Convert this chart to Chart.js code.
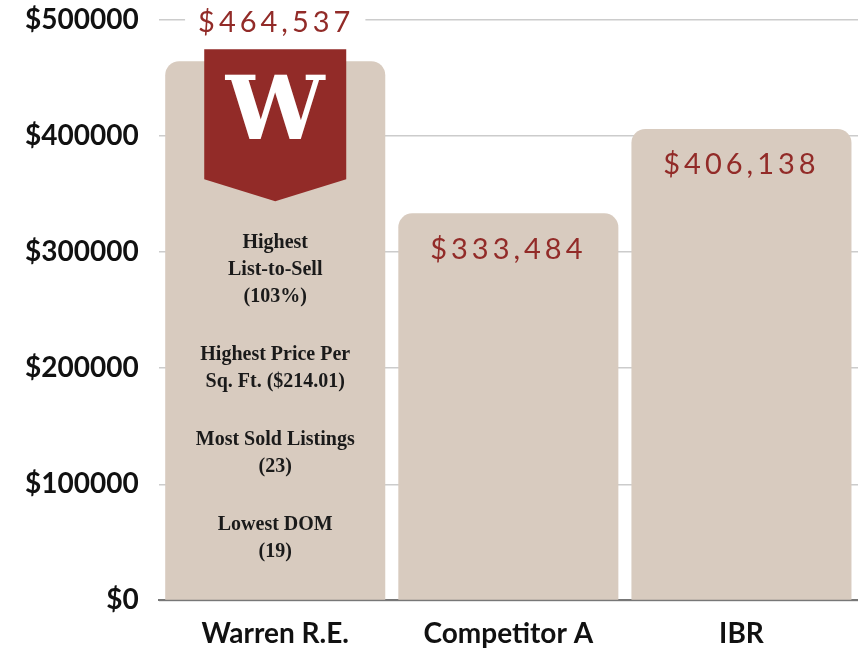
<!DOCTYPE html>
<html>
<head>
<meta charset="utf-8">
<script src="https://cdn.jsdelivr.net/npm/chart.js@4.4.1/dist/chart.umd.min.js"></script>
<style>
  html, body { margin: 0; padding: 0; background: #fff; }
  #wrap { width: 858px; height: 650px; }
</style>
</head>
<body>
<div id="wrap"><canvas id="grafico"></canvas></div>
<script>
var categorias = ["Warren R.E.", "Competitor A", "IBR"];
var precoMedio = [464537, 333484, 406138];
var destaque = "Warren R.E.";
var notasDestaque = [
  ["Highest", "List-to-Sell", "(103%)"],
  ["Highest Price Per", "Sq. Ft. ($214.01)"],
  ["Most Sold Listings", "(23)"],
  ["Lowest DOM", "(19)"]
];

var corBarra = "#d8cbbf";
var corVinho = "#922b28";

function formatarValor(v) {
  return "$" + v.toLocaleString("en-US");
}

var pluginRotulos = {
  id: "rotulos",
  afterDatasetsDraw: function (chart) {
    var ctx = chart.ctx;
    var meta = chart.getDatasetMeta(0);
    var area = chart.chartArea;
    ctx.save();
    meta.data.forEach(function (barra, i) {
      var valor = precoMedio[i];
      var texto = formatarValor(valor);
      ctx.font = "400 29px Lato";
      ctx.letterSpacing = "4px";
      ctx.textAlign = "center";
      ctx.textBaseline = "middle";

      if (categorias[i] === destaque) {
        // bandeira vermelha com o W
        var topo = barra.y - 12;
        var meia = 71;
        ctx.fillStyle = corVinho;
        ctx.beginPath();
        ctx.moveTo(barra.x - meia, topo);
        ctx.lineTo(barra.x + meia, topo);
        ctx.lineTo(barra.x + meia, barra.y + 118);
        ctx.lineTo(barra.x, barra.y + 140);
        ctx.lineTo(barra.x - meia, barra.y + 118);
        ctx.closePath();
        ctx.fill();

        ctx.letterSpacing = "0px";
        ctx.fillStyle = "#fff";
        ctx.font = "bold 88px 'DejaVu Serif'";
        ctx.fillText("W", barra.x, barra.y + 55);

        // valor acima da bandeira, com fundo branco
        ctx.font = "400 29px Lato";
        ctx.letterSpacing = "4px";
        var larg = ctx.measureText(texto).width;
        ctx.fillStyle = "#fff";
        ctx.fillRect(barra.x - larg / 2 - 12, area.top - 16, larg + 24, 32);
        ctx.fillStyle = corVinho;
        ctx.fillText(texto, barra.x + 1, area.top + 3);

        // notas dentro da barra
        ctx.letterSpacing = "0px";
        ctx.fillStyle = "#1a1a1a";
        ctx.font = "bold 20px 'Liberation Serif'";
        var y = barra.y + 182;
        notasDestaque.forEach(function (bloco) {
          bloco.forEach(function (linha) {
            ctx.fillText(linha, barra.x, y);
            y += 27;
          });
          y += 31;
        });
      } else {
        ctx.fillStyle = corVinho;
        ctx.fillText(texto, barra.x, barra.y + 36);
      }
    });
    ctx.restore();
  }
};

new Chart(document.getElementById("grafico"), {
  type: "bar",
  data: {
    labels: categorias,
    datasets: [
      {
        data: precoMedio,
        backgroundColor: corBarra,
        borderRadius: { topLeft: 14, topRight: 14, bottomLeft: 0, bottomRight: 0 },
        borderSkipped: "bottom",
        barPercentage: 1,
        categoryPercentage: 0.944,
      },
    ],
  },
  options: {
    responsive: true,
    maintainAspectRatio: false,
    animation: false,
    layout: {
      padding: { top: 20, right: 0, left: 5, bottom: -10 },
    },
    plugins: {
      legend: { display: false },
      tooltip: { enabled: false },
    },
    scales: {
      x: {
        grid: { display: false },
        border: { display: true, color: "#777", width: 2 },
        ticks: {
          color: "#111",
          padding: 9,
          font: { family: "Lato", size: 28, weight: "bold" },
        },
      },
      y: {
        beginAtZero: true,
        max: 500000,
        border: { display: false },
        grid: { color: "#cccccc", lineWidth: 1.5, drawTicks: false },
        afterFit: function (escala) {
          escala.paddingTop = 0;
          escala.paddingBottom = 0;
        },
        ticks: {
          stepSize: 100000,
          color: "#111",
          padding: 20,
          font: { family: "Lato", size: 28, weight: "bold" },
          callback: function (v) { return "$" + v; },
        },
      },
    },
  },
  plugins: [pluginRotulos],
});
</script>
</body>
</html>
